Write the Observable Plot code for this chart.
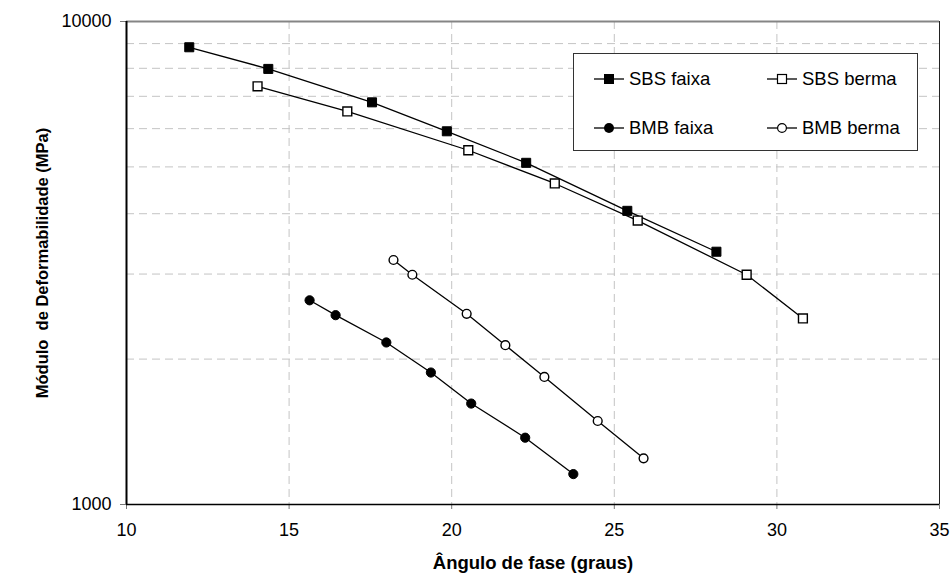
<!DOCTYPE html>
<html>
<head>
<meta charset="utf-8">
<script src="https://cdn.jsdelivr.net/npm/d3@7"></script>
<script src="https://cdn.jsdelivr.net/npm/@observablehq/plot@0.6"></script>
<style>
  body { margin: 0; background: #fff; }
  #wrap { position: relative; width: 951px; height: 578px; font-family: "Liberation Sans", Arial, sans-serif; }
  #legend { position: absolute; left: 573px; top: 53px; width: 345px; height: 98px; box-sizing: border-box; border: 1px solid #333; background: #fff; }
  .item { position: absolute; display: flex; align-items: center; font-size: 18.5px; color: #000; height: 20px; }
  .item svg { margin-right: 5px; }
</style>
</head>
<body>
<div id="wrap"></div>
<script>
// ---- data ----
const xTicks = [10, 15, 20, 25, 30, 35];
const yTicks = [1000, 10000];
const yMinorGrid = [2000, 3000, 4000, 5000, 6000, 7000, 8000, 9000];
const xGrid = [15, 20, 25, 30];

const seriesNames = ["SBS faixa", "SBS berma", "BMB faixa", "BMB berma"];
const sbsFaixaX = [11.93, 14.36, 17.55, 19.85, 22.29, 25.40, 28.14];
const sbsFaixaY = [8844, 7977, 6802, 5925, 5098, 4055, 3337];
const sbsBermaX = [14.03, 16.79, 20.51, 23.17, 25.72, 29.07, 30.80];
const sbsBermaY = [7341, 6514, 5413, 4620, 3871, 2990, 2428];
const bmbFaixaX = [15.63, 16.43, 17.99, 19.36, 20.60, 22.26, 23.74];
const bmbFaixaY = [2647, 2466, 2165, 1876, 1618, 1375, 1156];
const bmbBermaX = [18.21, 18.79, 20.46, 21.65, 22.85, 24.49, 25.90];
const bmbBermaY = [3208, 2990, 2482, 2137, 1837, 1489, 1246];

const xLabel = "Ângulo de fase (graus)";
const yLabel = "Módulo  de Deformabilidade (MPa)";

// ---- build ----
const mk = (name, xs, ys) => xs.map((x, i) => ({series: name, x, y: ys[i]}));
const sbsF = mk(seriesNames[0], sbsFaixaX, sbsFaixaY);
const sbsB = mk(seriesNames[1], sbsBermaX, sbsBermaY);
const bmbF = mk(seriesNames[2], bmbFaixaX, bmbFaixaY);
const bmbB = mk(seriesNames[3], bmbBermaX, bmbBermaY);

const font = "'Liberation Sans', Arial, sans-serif";
const lineOpts = {x: "x", y: "y", stroke: "#000", strokeWidth: 1.3};

const chart = Plot.plot({
  width: 951,
  height: 578,
  marginLeft: 126,
  marginTop: 21,
  marginRight: 12,
  marginBottom: 74,
  style: {fontSize: "18px", fontFamily: font, background: "#fff", color: "#000"},
  x: {domain: [10, 35]},
  y: {type: "log", domain: [1000, 10000]},
  marks: [
    Plot.gridY(yMinorGrid, {stroke: "#c4c4c4", strokeOpacity: 1, strokeDasharray: "8,5"}),
    Plot.gridX(xGrid, {stroke: "#c4c4c4", strokeOpacity: 1, strokeDasharray: "8,5"}),
    Plot.ruleY([10000], {stroke: "#858585", strokeWidth: 2}),
    Plot.ruleX([35], {stroke: "#222", strokeWidth: 1}),
    Plot.axisX({ticks: xTicks, tickSize: 5, tickPadding: 14, label: null, stroke: "#777", fill: "#000"}),
    Plot.axisY({ticks: yTicks, tickSize: 6, tickPadding: 9, tickFormat: d => String(d), label: null, stroke: "#777", fill: "#000"}),
    Plot.ruleX([10], {stroke: "#000", strokeWidth: 2}),
    Plot.ruleY([1000], {stroke: "#000", strokeWidth: 1.5}),
    Plot.line(sbsF, lineOpts),
    Plot.line(sbsB, lineOpts),
    Plot.line(bmbF, lineOpts),
    Plot.line(bmbB, lineOpts),
    Plot.dot(sbsF, {x: "x", y: "y", symbol: "square", r: 5.1, fill: "#000", stroke: "#000", strokeWidth: 1}),
    Plot.dot(sbsB, {x: "x", y: "y", symbol: "square", r: 5, fill: "#fff", stroke: "#000", strokeWidth: 1.4}),
    Plot.dot(bmbF, {x: "x", y: "y", symbol: "circle", r: 4.6, fill: "#000", stroke: "#000", strokeWidth: 1}),
    Plot.dot(bmbB, {x: "x", y: "y", symbol: "circle", r: 4.4, fill: "#fff", stroke: "#000", strokeWidth: 1.4}),
    Plot.text([xLabel], {frameAnchor: "bottom", dy: 64, textAnchor: "middle", fontWeight: "bold", fontSize: 18.5, fill: "#000"}),
    Plot.text([yLabel], {frameAnchor: "left", dx: -84, rotate: -90, textAnchor: "middle", fontWeight: "bold", fontSize: 16.5, fill: "#000"})
  ]
});

const wrap = document.getElementById("wrap");
wrap.appendChild(chart);

// ---- legend (overlay) ----
const legend = document.createElement("div");
legend.id = "legend";
const glyph = (kind) => {
  const sq = kind.startsWith("sq");
  const filled = kind.endsWith("F");
  const shape = sq
    ? `<rect x="${filled ? 10 : 10.5}" y="${filled ? 2 : 2.5}" width="${filled ? 10 : 9}" height="${filled ? 10 : 9}" fill="${filled ? "#000" : "#fff"}" stroke="#000" stroke-width="${filled ? 0 : 1.2}"/>`
    : `<circle cx="15" cy="7" r="${filled ? 5 : 4.4}" fill="${filled ? "#000" : "#fff"}" stroke="#000" stroke-width="${filled ? 0 : 1.2}"/>`;
  return `<svg width="30" height="14" viewBox="0 0 30 14"><line x1="0" y1="7" x2="30" y2="7" stroke="#000" stroke-width="1.3"/>${shape}</svg>`;
};
const items = [
  {name: seriesNames[0], kind: "sqF", left: 20, top: 15},
  {name: seriesNames[1], kind: "sqO", left: 193, top: 15},
  {name: seriesNames[2], kind: "ciF", left: 20, top: 64},
  {name: seriesNames[3], kind: "ciO", left: 193, top: 64}
];
for (const it of items) {
  const d = document.createElement("div");
  d.className = "item";
  d.style.left = it.left + "px";
  d.style.top = it.top + "px";
  d.innerHTML = glyph(it.kind) + `<span>${it.name}</span>`;
  legend.appendChild(d);
}
wrap.appendChild(legend);
</script>
</body>
</html>
